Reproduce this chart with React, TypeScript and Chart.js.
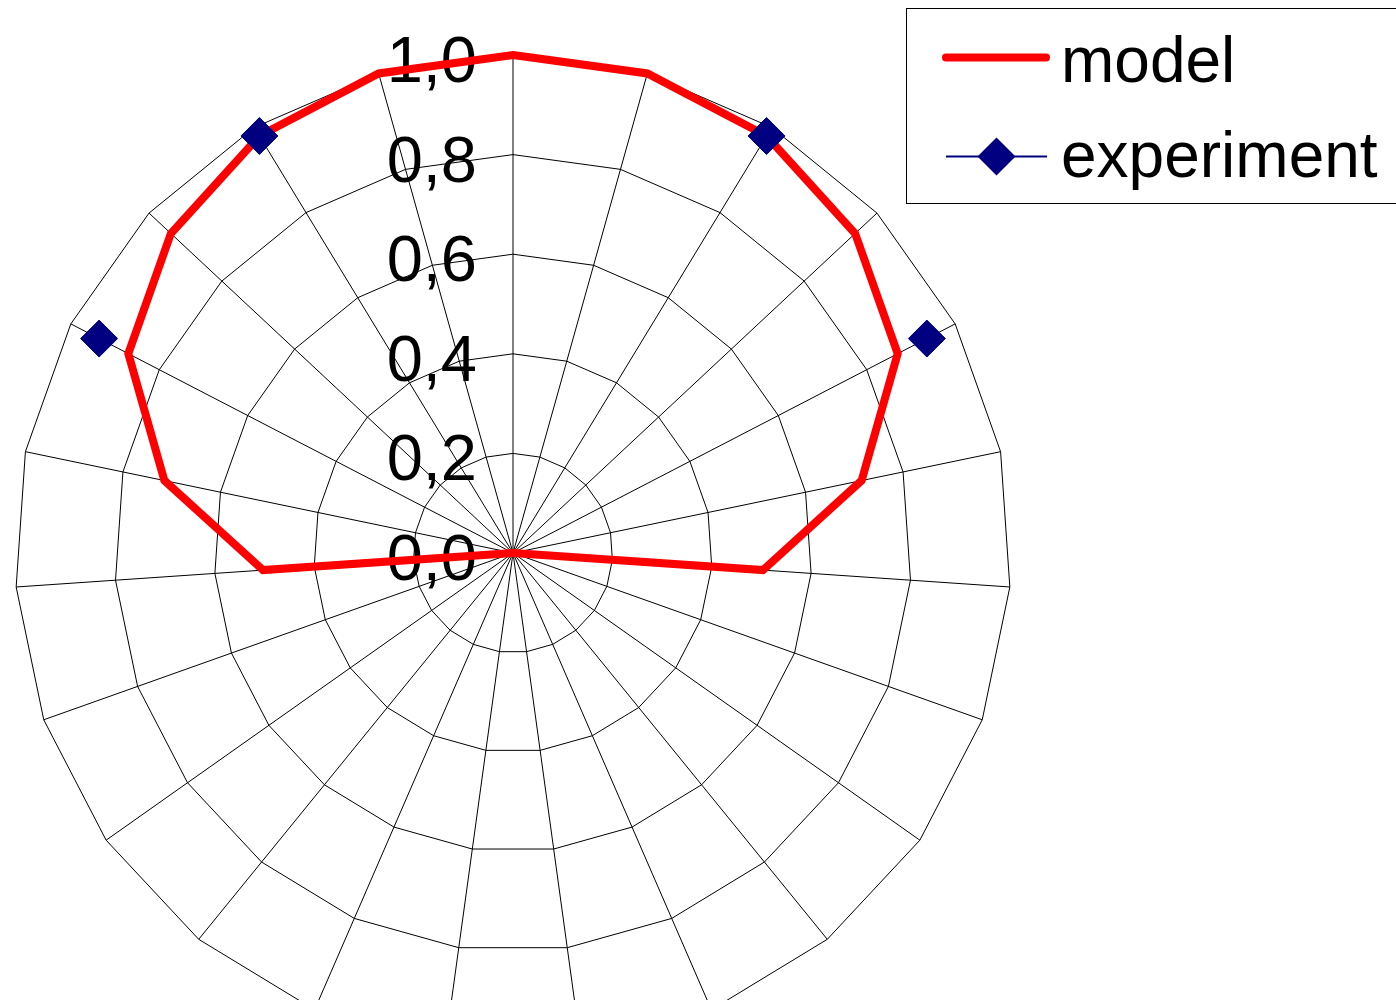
import React, { useEffect, useRef } from "react";
import { Chart, registerables } from "chart.js";

Chart.register(...registerables);

// 23 equally spaced directions, starting at the top, clockwise
const directions: string[] = [
  "0", "1", "2", "3", "4", "5", "6", "7", "8", "9", "10", "11",
  "12", "13", "14", "15", "16", "17", "18", "19", "20", "21", "22",
];

const seriesNames: string[] = ["model", "experiment"];

const modelValues: number[] = [
  1.0, 1.0, 0.98, 0.94, 0.87, 0.715, 0.503,
  0, 0, 0, 0, 0, 0, 0, 0, 0, 0,
  0.503, 0.715, 0.87, 0.94, 0.98, 1.0,
];

const experimentValues: (number | null)[] = [
  null, null, 0.98, null, 0.936, null, null,
  null, null, null, null, null, null, null, null, null, null,
  null, null, 0.936, null, 0.98, null,
];

const tickValues: number[] = [0, 0.2, 0.4, 0.6, 0.8, 1.0];
const tickLabels: string[] = ["0,0", "0,2", "0,4", "0,6", "0,8", "1,0"];

const FAMILY = '"Liberation Sans", Arial, Helvetica, sans-serif';
const RED = "#ff0000";
const NAVY = "#000080";

const overlayPlugin = {
  id: "overlayPlugin",
  beforeDatasetsDraw(chart: any) {
    const s = chart.scales.r;
    const ctx = chart.ctx as CanvasRenderingContext2D;
    ctx.save();
    ctx.font = "65px " + FAMILY;
    ctx.fillStyle = "#000";
    ctx.textAlign = "right";
    ctx.textBaseline = "alphabetic";
    tickValues.forEach((v, i) => {
      const y = s.yCenter - s.getDistanceFromCenterForValue(v);
      ctx.fillText(tickLabels[i], s.xCenter - 36, y + 27);
    });
    ctx.restore();
  },
  afterDraw(chart: any) {
    const ctx = chart.ctx as CanvasRenderingContext2D;
    ctx.save();
    // legend box
    ctx.fillStyle = "#fff";
    ctx.fillRect(906.5, 8.5, 520, 195);
    ctx.strokeStyle = "#000";
    ctx.lineWidth = 1;
    ctx.strokeRect(906.5, 8.5, 520, 195);
    // model entry
    ctx.strokeStyle = RED;
    ctx.lineWidth = 8;
    ctx.lineCap = "round";
    ctx.beginPath();
    ctx.moveTo(946, 57.5);
    ctx.lineTo(1046, 57.5);
    ctx.stroke();
    // experiment entry
    ctx.strokeStyle = NAVY;
    ctx.lineWidth = 2;
    ctx.lineCap = "butt";
    ctx.beginPath();
    ctx.moveTo(946, 156.5);
    ctx.lineTo(1047, 156.5);
    ctx.stroke();
    ctx.fillStyle = NAVY;
    ctx.beginPath();
    ctx.moveTo(996.5 - 19, 156.5);
    ctx.lineTo(996.5, 156.5 - 19);
    ctx.lineTo(996.5 + 19, 156.5);
    ctx.lineTo(996.5, 156.5 + 19);
    ctx.closePath();
    ctx.fill();
    // texts
    ctx.font = "64px " + FAMILY;
    ctx.fillStyle = "#000";
    ctx.textAlign = "left";
    ctx.textBaseline = "alphabetic";
    ctx.fillText(seriesNames[0], 1061, 82);
    ctx.fillText(seriesNames[1], 1061, 177);
    ctx.restore();
  },
};

export default function App() {
  const canvasRef = useRef<HTMLCanvasElement | null>(null);

  useEffect(() => {
    const canvas = canvasRef.current;
    if (!canvas) return;
    const chart = new Chart(canvas, {
      type: "radar",
      data: {
        labels: directions,
        datasets: [
          {
            label: seriesNames[0],
            data: modelValues,
            borderColor: RED,
            backgroundColor: RED,
            borderWidth: 8,
            borderJoinStyle: "miter",
            pointRadius: 0,
            pointHoverRadius: 0,
            fill: false,
            tension: 0,
            order: 1,
          },
          {
            label: seriesNames[1],
            data: experimentValues,
            borderColor: NAVY,
            backgroundColor: NAVY,
            borderWidth: 2,
            pointStyle: "rectRot",
            pointRadius: 18.5,
            pointBorderWidth: 1,
            pointBorderColor: NAVY,
            pointBackgroundColor: NAVY,
            fill: false,
            spanGaps: false,
            order: 0,
          },
        ],
      },
      options: {
        responsive: false,
        animation: false,
        devicePixelRatio: 1,
        layout: { padding: { left: 15, right: 385, top: 55, bottom: 55 } },
        plugins: {
          legend: { display: false },
          tooltip: { enabled: false },
          title: { display: false },
        },
        scales: {
          r: {
            min: 0,
            max: 1,
            startAngle: 0,
            ticks: { display: false, stepSize: 0.2 },
            pointLabels: { display: false },
            grid: { color: "#000", lineWidth: 1, circular: false },
            angleLines: { color: "#000", lineWidth: 1 },
          },
        },
      },
      plugins: [overlayPlugin],
    } as any);
    return () => chart.destroy();
  }, []);

  return (
    <div
      style={{
        position: "absolute",
        left: 0,
        top: 0,
        width: 1396,
        height: 1000,
        overflow: "hidden",
        background: "#fff",
      }}
    >
      <canvas
        ref={canvasRef}
        width={1396}
        height={1106}
        style={{ display: "block", width: 1396, height: 1106 }}
      />
    </div>
  );
}
